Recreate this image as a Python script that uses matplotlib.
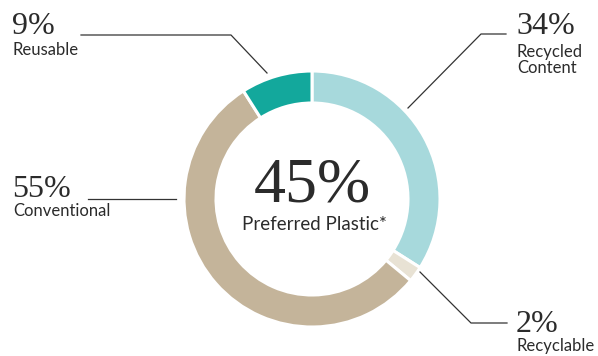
import matplotlib.pyplot as plt

# plastic packaging breakdown
labels = ['Recycled\nContent', 'Recyclable', 'Conventional', 'Reusable']
shares = [34, 2, 55, 9]
colors = ['#A7D9DC', '#E8E2D4', '#C4B49A', '#13A89C']
preferred = 45

W, H = 598, 356
fig = plt.figure(figsize=(W / 100, H / 100), dpi=100)
ax = fig.add_axes([0, 0, 1, 1])

cx, cy, r = 312, H - 199, 128
ax.pie(shares, colors=colors, startangle=90, counterclock=False,
       center=(cx, cy), radius=r, frame=True,
       wedgeprops=dict(width=32, edgecolor='white', linewidth=2.2))
ax.set_xlim(0, W)
ax.set_ylim(0, H)
ax.set_aspect('equal')
ax.axis('off')

serif = ['Liberation Serif', 'DejaVu Serif']
sans = ['Lato', 'DejaVu Sans']
ink = '#2b2b2b'

ax.text(cx, H - 201, f'{preferred}%', fontsize=46, family=serif,
        color=ink, ha='center', va='baseline')
ax.text(cx + 2, H - 230, 'Preferred Plastic*', fontsize=13.5, family=sans,
        color=ink, ha='center', va='baseline')

def y(v):
    return H - v

# leader lines
line_kw = dict(color='#333333', lw=0.9)
ax.plot([81, 231, 267], [y(35), y(35), y(73)], **line_kw)
ax.plot([408, 481, 506], [y(108), y(34), y(34)], **line_kw)
ax.plot([88, 176], [y(199), y(199)], **line_kw)
ax.plot([420, 471, 507], [y(272), y(323), y(323)], **line_kw)

# callouts: (x, baseline of percent, baseline of first label line)
spots = {
    'Recycled\nContent': (516, 34, 57),
    'Recyclable': (516, 332, 351),
    'Conventional': (12, 197, 216),
    'Reusable': (12, 34, 55),
}
for lab, val in zip(labels, shares):
    x, yp, yl = spots[lab]
    ax.text(x, y(yp), f'{val}%', fontsize=23, family=serif, color=ink,
            ha='left', va='baseline')
    for i, part in enumerate(lab.split('\n')):
        ax.text(x + 1, y(yl + 16 * i), part, fontsize=12, family=sans,
                color=ink, ha='left', va='baseline')

fig.savefig('out.png', dpi=100, facecolor='white')
